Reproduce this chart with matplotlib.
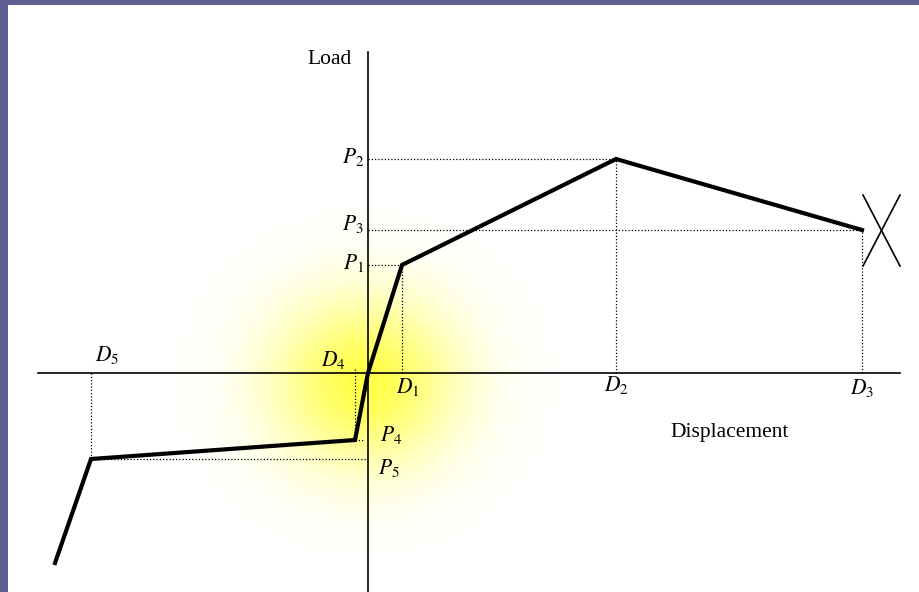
import numpy as np
import matplotlib
matplotlib.use("Agg")
import matplotlib.pyplot as plt

plt.rcParams['mathtext.fontset'] = 'stix'
plt.rcParams['font.family'] = ['Liberation Serif', 'DejaVu Serif']

# load-displacement path (origin at axis crossing, units ~ pixels)
disp = [-313, -277, -13, 0, 34, 248, 494]
load = [-190, -86, -67, 0, 108, 214, 143]

# named points used for the guide lines / labels
D = {1: 34, 2: 248, 3: 494, 4: -13, 5: -277}
P = {1: 108, 2: 214, 3: 143, 4: -67, 5: -86}

fig = plt.figure(figsize=(9.2, 5.92), dpi=100, facecolor='#5e5e94')
ax = fig.add_axes([8 / 920, 0, 912 / 920, 587 / 592])
ax.set_facecolor('white')
ax.set_xticks([])
ax.set_yticks([])
for s in ax.spines.values():
    s.set_visible(False)

# yellow glow near the origin
gx = np.linspace(-220, 220, 440)
gy = np.linspace(-220, 220, 440)
GX, GY = np.meshgrid(gx, gy)
r = np.sqrt(GX ** 2 + (GY / 0.93) ** 2)
alpha = 0.85 * np.exp(-(r / 90.0) ** 2)
img = np.zeros((440, 440, 4))
img[..., 0] = 1.0
img[..., 1] = 1.0
img[..., 2] = 0.15
img[..., 3] = alpha
ax.imshow(img, extent=(-3 - 220, -3 + 220, -9 - 220, -9 + 220), origin='lower',
          zorder=0, aspect='auto')
ax.set_xlim(-360, 552)
ax.set_ylim(-219, 368)

# axes
ax.plot([-330, 532], [0, 0], color='black', lw=1.2, zorder=2)
ax.plot([0, 0], [-230, 321], color='black', lw=1.2, zorder=2)

dot = dict(color='black', lw=0.9, linestyle=(0, (1, 1.6)), zorder=2)
# guides on positive side
ax.plot([0, D[1]], [P[1], P[1]], **dot)
ax.plot([D[1], D[1]], [0, P[1]], **dot)
ax.plot([0, D[2]], [P[2], P[2]], **dot)
ax.plot([D[2], D[2]], [0, P[2]], **dot)
ax.plot([0, D[3]], [P[3], P[3]], **dot)
ax.plot([D[3], D[3]], [0, P[3]], **dot)
# guides on negative side
ax.plot([D[4], D[4]], [4, P[4]], **dot)
ax.plot([D[4], -5], [P[4], P[4]], **dot)
ax.plot([D[5], 0], [P[5], P[5]], **dot)
ax.plot([D[5], D[5]], [0, P[5]], **dot)

# curve
ax.plot(disp, load, color='black', lw=3, solid_joinstyle='miter', zorder=3)

# failure cross
ax.plot([495, 532], [178, 107], color='black', lw=1.2, zorder=3)
ax.plot([532, 495], [178, 107], color='black', lw=1.2, zorder=3)

fs = 15.5
ax.text(-16, 313, 'Load', fontsize=fs, ha='right', va='center')
ax.text(362, -60, 'Displacement', fontsize=fs, ha='center', va='center')

ax.text(-4, P[2] + 2, '$P_2$', fontsize=fs, ha='right', va='center')
ax.text(-4, P[3] + 6, '$P_3$', fontsize=fs, ha='right', va='center')
ax.text(-4, P[1] + 2, '$P_1$', fontsize=fs, ha='right', va='center')
ax.text(12, -62, '$P_4$', fontsize=fs, ha='left', va='center')
ax.text(10, -95, '$P_5$', fontsize=fs, ha='left', va='center')

ax.text(D[5] + 16, 18, '$D_5$', fontsize=fs, ha='center', va='center')
ax.text(-35, 13, '$D_4$', fontsize=fs, ha='center', va='center')
ax.text(D[1] + 6, -14, '$D_1$', fontsize=fs, ha='center', va='center')
ax.text(D[2], -12, '$D_2$', fontsize=fs, ha='center', va='center')
ax.text(D[3], -15, '$D_3$', fontsize=fs, ha='center', va='center')

fig.savefig('out.png', dpi=100, facecolor=fig.get_facecolor())
